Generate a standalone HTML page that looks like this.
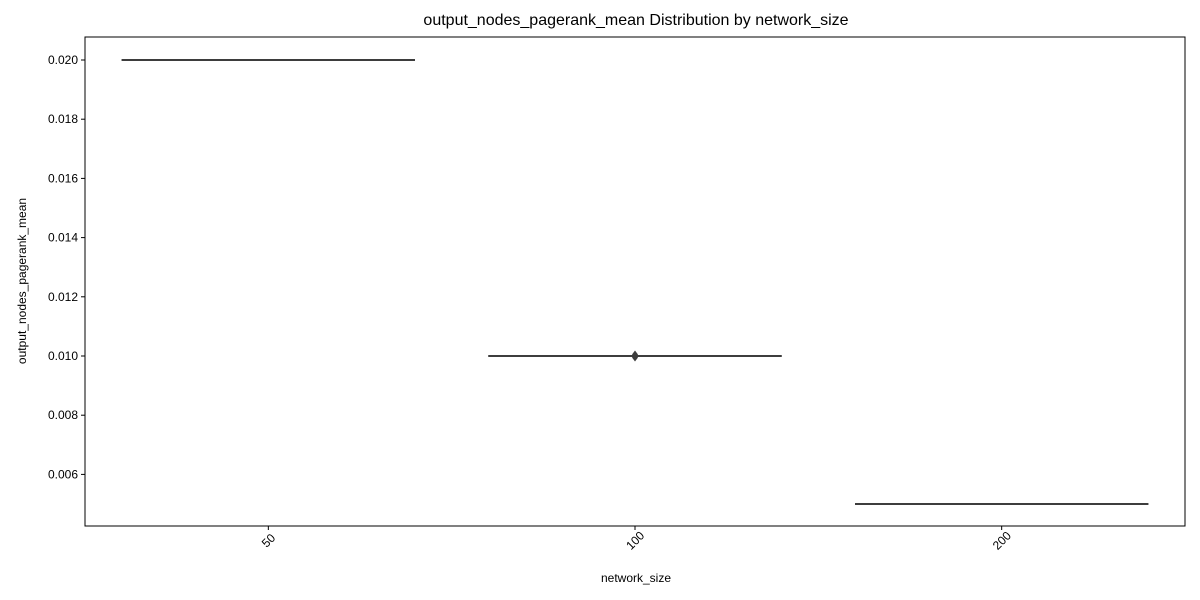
<!DOCTYPE html>
<html><head><meta charset="utf-8"><style>body{margin:0;background:#fff}svg{display:block;font-family:"Liberation Sans",sans-serif}</style></head>
<body>
<svg id="c" width="1200" height="600"></svg>
<script>
const categories=["50","100","200"];
const medians=[0.020,0.010,0.005];
const q1s=[0.020,0.010,0.005];
const q3s=[0.020,0.010,0.005];
const outliers=[[],[0.00995,0.01,0.01005],[]];
const yTicks=[0.006,0.008,0.010,0.012,0.014,0.016,0.018,0.020];
const L=85,R=1185,T=37,B=526;
const y=v=>60+(0.020-v)/0.002*59.2;
const xc=i=>L+(R-L)*(i+0.5)/categories.length;
const bw=(R-L)/categories.length*0.8;
const s=document.getElementById('c');const NS='http://www.w3.org/2000/svg';
function add(t,a,txt){const e=document.createElementNS(NS,t);for(const k in a)e.setAttribute(k,a[k]);if(txt!=null)e.textContent=txt;s.appendChild(e);return e;}
let e;
e=add('text',{x:636,y:25,'text-anchor':'middle','font-size':16},'output_nodes_pagerank_mean Distribution by network_size');


yTicks.forEach(v=>{
 add('line',{x1:L-4,x2:L,y1:y(v),y2:y(v),stroke:'#000'});
 e=add('text',{x:L-7,y:y(v)+4,'text-anchor':'end','font-size':12},v.toFixed(3));
 
 
});
categories.forEach((c,i)=>{
 const x=xc(i);
 add('line',{x1:x,x2:x,y1:B,y2:B+4,stroke:'#000'});
 e=add('text',{x:x,y:B+22,'text-anchor':'middle','font-size':12,transform:`rotate(-45 ${x-4} ${B+16})`},c);
 
 
 e=add('rect',{x:x-bw/2,y:y(q3s[i])-1,width:bw,height:Math.max(2,y(q1s[i])-y(q3s[i])+2),fill:'#3d3d3d'});
 
 
 add('line',{x1:x-bw/2,x2:x+bw/2,y1:y(medians[i]),y2:y(medians[i]),stroke:'#3d3d3d','stroke-width':2});
 outliers[i].forEach(v=>{
  e=add('path',{d:`M${x} ${y(v)-4}L${x+3} ${y(v)}L${x} ${y(v)+4}L${x-3} ${y(v)}Z`,fill:'#3d3d3d'});
  
  
 });
});
add('rect',{x:L,y:T,width:R-L,height:B-T,fill:'none',stroke:'#000','stroke-width':1});
e=add('text',{x:636,y:582,'text-anchor':'middle','font-size':12},'network_size');


e=add('text',{x:26,y:281,'text-anchor':'middle','font-size':12,transform:'rotate(-90 26 281)'},'output_nodes_pagerank_mean');


</script>
</body></html>
